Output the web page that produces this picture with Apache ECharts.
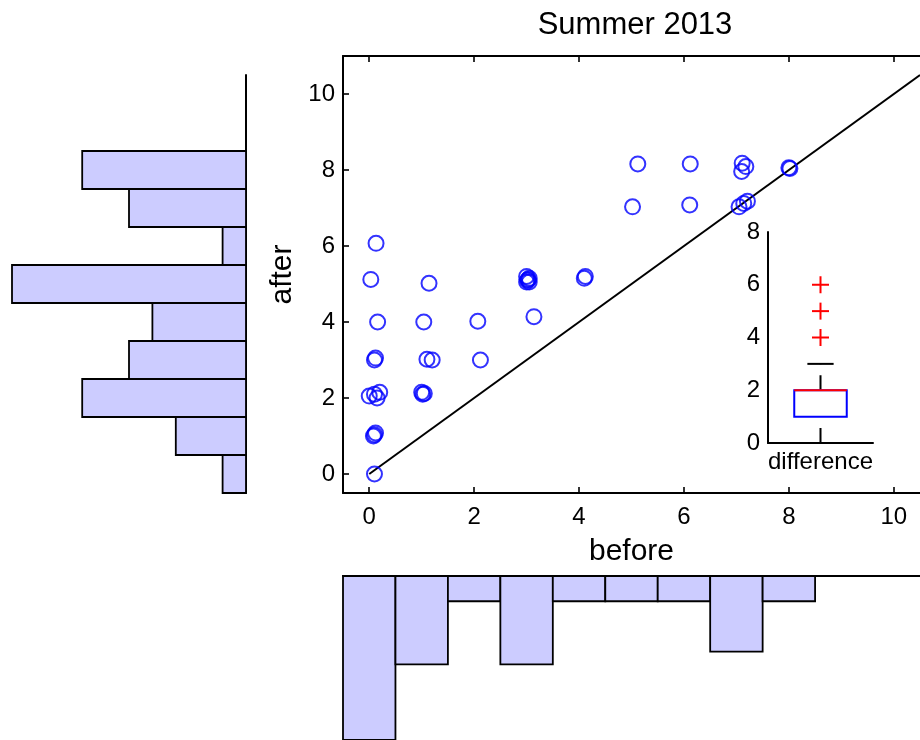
<!DOCTYPE html>
<html>
<head>
<meta charset="utf-8">
<script src="https://cdn.jsdelivr.net/npm/echarts@6/dist/echarts.min.js"></script>
<style>
  html, body { margin: 0; padding: 0; background: #fff; }
  #main { width: 920px; height: 740px; }
</style>
</head>
<body>
<div id="main"></div>
<script>
// scatter: before / after pairs
var before = [0.1, 0.1, 0.12, 0.08, 0.0, 0.1, 0.2, 0.15, 0.1, 0.12, 0.16, 0.03, 0.13,
              1.02, 1.0, 1.05, 1.1, 1.2, 1.04, 1.14,
              2.07, 2.12,
              3.14, 3.0, 3.05, 3.02, 3.0, 3.05, 3.03,
              4.1, 4.12,
              5.02, 5.12,
              6.11, 6.12,
              7.05, 7.14, 7.21, 7.11, 7.18, 7.1,
              8.02, 8.0];
var after = [0.0, 1.03, 1.08, 1.0, 2.05, 2.1, 2.15, 2.0, 3.0, 3.05, 4.0, 5.12, 6.07,
             2.1, 2.15, 2.12, 3.02, 3.0, 4.0, 5.02,
             4.02, 3.0,
             4.14, 5.05, 5.15, 5.1, 5.2, 5.05, 5.12,
             5.15, 5.2,
             7.03, 8.16,
             7.08, 8.16,
             7.03, 7.12, 7.18, 8.18, 8.09, 7.96,
             8.04, 8.06];

// histograms
var bins = [0, 1, 2, 3, 4, 5, 6, 7, 8, 9, 10];
var afterCounts = [1, 3, 7, 5, 4, 10, 1, 5, 7, 0, 0];
var beforeCounts = [13, 7, 2, 7, 2, 2, 2, 6, 2, 0, 0];

// boxplot of difference
var boxLow = 0, boxQ1 = 1, boxMed = 2, boxQ3 = 2, boxHigh = 3;
var outliers = [4, 5, 6];

var mainTicks = [0, 2, 4, 6, 8, 10];
var identityLine = [[0, 0], [10.5, 10.5]];

var FONT = "'Liberation Sans', Arial, Helvetica, sans-serif";

var points = before.map(function (b, i) { return [b, after[i]]; });
var leftHist = [];
var bottomHist = [];
bins.forEach(function (b, i) {
    if (afterCounts[i] > 0) leftHist.push([afterCounts[i], b]);
    if (beforeCounts[i] > 0) bottomHist.push([b, beforeCounts[i]]);
});

var barStyle = { fill: '#ccccff', stroke: '#000', lineWidth: 1.8 };

function rectFrom(p0, p1) {
    return {
        x: Math.min(p0[0], p1[0]),
        y: Math.min(p0[1], p1[1]),
        width: Math.abs(p1[0] - p0[0]),
        height: Math.abs(p1[1] - p0[1])
    };
}

function renderLeftHist(params, api) {
    var c = api.value(0), b = api.value(1);
    var p0 = api.coord([0, b - 0.5]);
    var p1 = api.coord([c, b + 0.5]);
    return { type: 'rect', shape: rectFrom(p0, p1), style: barStyle };
}

function renderBottomHist(params, api) {
    var b = api.value(0), c = api.value(1);
    var p0 = api.coord([b - 0.5, 0]);
    var p1 = api.coord([b + 0.5, c]);
    return { type: 'rect', shape: rectFrom(p0, p1), style: barStyle };
}

function renderBox(params, api) {
    var x = api.value(0);
    var hw = 0.25, cw = 0.125;
    var tl = api.coord([x - hw, boxQ3]);
    var br = api.coord([x + hw, boxQ1]);
    var med0 = api.coord([x - hw, boxMed]);
    var med1 = api.coord([x + hw, boxMed]);
    var wTop0 = api.coord([x, boxQ3]);
    var wTop1 = api.coord([x, boxHigh]);
    var wLow0 = api.coord([x, boxLow]);
    var wLow1 = api.coord([x, boxQ1]);
    var capA = api.coord([x - cw, boxHigh]);
    var capB = api.coord([x + cw, boxHigh]);
    var capC = api.coord([x - cw, boxLow]);
    var capD = api.coord([x + cw, boxLow]);
    var dash = { stroke: '#000', lineWidth: 2, lineDash: [15, 11] };
    return {
        type: 'group',
        children: [
            { type: 'line', shape: { x1: wTop0[0], y1: wTop0[1], x2: wTop1[0], y2: wTop1[1] }, style: dash },
            { type: 'line', shape: { x1: wLow0[0], y1: wLow0[1], x2: wLow1[0], y2: wLow1[1] }, style: dash },
            { type: 'line', shape: { x1: capA[0], y1: capA[1], x2: capB[0], y2: capB[1] }, style: { stroke: '#000', lineWidth: 2 } },
            { type: 'line', shape: { x1: capC[0], y1: capC[1], x2: capD[0], y2: capD[1] }, style: { stroke: '#000', lineWidth: 2 } },
            { type: 'rect', shape: rectFrom(tl, br), style: { fill: 'none', stroke: '#0000ff', lineWidth: 2 } },
            { type: 'line', shape: { x1: med0[0], y1: med0[1], x2: med1[0], y2: med1[1] }, style: { stroke: '#ff0000', lineWidth: 2 } }
        ]
    };
}

function renderOutlier(params, api) {
    var p = api.coord([api.value(0), api.value(1)]);
    var s = 8.5;
    var st = { stroke: '#ff0000', lineWidth: 2 };
    return {
        type: 'group',
        children: [
            { type: 'line', shape: { x1: p[0] - s, y1: p[1], x2: p[0] + s, y2: p[1] }, style: st },
            { type: 'line', shape: { x1: p[0], y1: p[1] - s, x2: p[0], y2: p[1] + s }, style: st }
        ]
    };
}

var blackLine = { show: true, onZero: false, lineStyle: { color: '#000', width: 2 } };
var noTick = { show: false };
var noLabel = { show: false };
var inTick = { show: true, inside: true, length: 6, customValues: mainTicks, lineStyle: { color: '#000', width: 1.6 } };

var chartDom = document.getElementById('main');
var myChart = echarts.init(chartDom);
var option;

option = {
    animation: false,
    backgroundColor: '#fff',
    textStyle: { fontFamily: FONT, color: '#000' },
    title: {
        text: 'Summer 2013',
        left: 630,
        textAlign: 'center',
        top: 5,
        textStyle: { fontFamily: FONT, fontSize: 31, fontWeight: 'normal', color: '#000' }
    },
    grid: [
        { left: 343, top: 56, width: 583, height: 437 },
        { left: 12, top: 75, width: 234, height: 418 },
        { left: 343, top: 576, width: 583, height: 169 },
        { left: 768, top: 232, width: 105, height: 211 }
    ],
    xAxis: [
        {
            gridIndex: 0, type: 'value', min: -0.5, max: 10.5, position: 'bottom',
            axisLine: blackLine,
            axisTick: inTick,
            axisLabel: { customValues: mainTicks, fontSize: 24, color: '#000', margin: 12, fontFamily: FONT },
            splitLine: { show: false },
            name: 'before', nameLocation: 'middle', nameGap: 44,
            nameTextStyle: { fontSize: 30, color: '#000', fontFamily: FONT }
        },
        {
            gridIndex: 0, type: 'value', min: -0.5, max: 10.5, position: 'top',
            axisLine: blackLine,
            axisTick: inTick,
            axisLabel: noLabel,
            splitLine: { show: false }
        },
        {
            gridIndex: 1, type: 'value', min: 0, max: 10, inverse: true, show: false
        },
        {
            gridIndex: 2, type: 'value', min: -0.5, max: 10.5, position: 'top',
            axisLine: blackLine, axisTick: noTick, axisLabel: noLabel, splitLine: { show: false }
        },
        {
            gridIndex: 3, type: 'value', min: 0.5, max: 1.5,
            axisLine: blackLine, axisTick: noTick, splitLine: { show: false },
            axisLabel: {
                customValues: [1], fontSize: 24, color: '#000', margin: 7, fontFamily: FONT,
                formatter: function () { return 'difference'; }
            }
        }
    ],
    yAxis: [
        {
            gridIndex: 0, type: 'value', min: -0.5, max: 11,
            axisLine: blackLine,
            axisTick: inTick,
            axisLabel: { customValues: mainTicks, fontSize: 24, color: '#000', margin: 8, fontFamily: FONT },
            splitLine: { show: false },
            name: 'after', nameLocation: 'middle', nameGap: 45,
            nameTextStyle: { fontSize: 30, color: '#000', fontFamily: FONT }
        },
        {
            gridIndex: 1, type: 'value', min: -0.5, max: 10.5, position: 'right',
            axisLine: blackLine, axisTick: noTick, axisLabel: noLabel, splitLine: { show: false }
        },
        {
            gridIndex: 2, type: 'value', min: 0, max: 13, inverse: true, show: false
        },
        {
            gridIndex: 3, type: 'value', min: 0, max: 8, interval: 2,
            axisLine: blackLine, axisTick: noTick, splitLine: { show: false },
            axisLabel: { fontSize: 24, color: '#000', margin: 8, fontFamily: FONT }
        }
    ],
    series: [
        {
            type: 'line', xAxisIndex: 0, yAxisIndex: 0, data: identityLine,
            symbol: 'none', lineStyle: { color: '#000', width: 2 }, z: 2
        },
        {
            type: 'scatter', xAxisIndex: 0, yAxisIndex: 0, data: points,
            symbol: 'circle', symbolSize: 15,
            itemStyle: { color: 'rgba(0,0,0,0)', borderColor: '#0000ff', borderWidth: 2 },
            z: 3
        },
        {
            type: 'custom', xAxisIndex: 2, yAxisIndex: 1, data: leftHist,
            renderItem: renderLeftHist, encode: { x: 0, y: 1 }
        },
        {
            type: 'custom', xAxisIndex: 3, yAxisIndex: 2, data: bottomHist,
            renderItem: renderBottomHist, encode: { x: 0, y: 1 }
        },
        {
            type: 'custom', xAxisIndex: 4, yAxisIndex: 3, data: [[1, boxMed]],
            renderItem: renderBox, encode: { x: 0, y: 1 }, clip: false, z: 4
        },
        {
            type: 'custom', xAxisIndex: 4, yAxisIndex: 3,
            data: outliers.map(function (v) { return [1, v]; }),
            renderItem: renderOutlier, encode: { x: 0, y: 1 }, z: 4
        }
    ]
};

option && myChart.setOption(option);
window.addEventListener("resize", function () {
    myChart.resize();
});
</script>
</body>
</html>
